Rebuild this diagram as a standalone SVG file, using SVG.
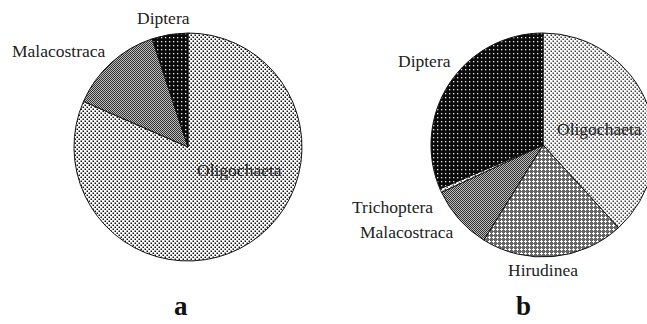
<svg xmlns="http://www.w3.org/2000/svg" width="647" height="324" viewBox="0 0 647 324">
<style>
.slice{stroke:#111;stroke-width:1}
.lbl{font-family:"Liberation Serif","Times New Roman",serif;font-size:17.5px;fill:#222}
.cap{font-family:"Liberation Serif","Times New Roman",serif;font-size:27px;font-weight:bold;fill:#111}
</style>
<defs>
<pattern id="pLight" width="4" height="4" patternUnits="userSpaceOnUse">
<rect width="4" height="4" fill="#fff"/>
<rect x="0.5" y="0.5" width="1.5" height="1.5" fill="#111"/>
<rect x="2.5" y="2.5" width="1.5" height="1.5" fill="#111"/>
</pattern>
<pattern id="pLightB" width="4" height="4" patternUnits="userSpaceOnUse">
<rect width="4" height="4" fill="#fff"/>
<rect x="0.5" y="0.5" width="1.5" height="1.5" fill="#444"/>
<rect x="2.5" y="2.5" width="1.5" height="1.5" fill="#444"/>
</pattern>
<pattern id="pGray" width="2" height="2" patternUnits="userSpaceOnUse">
<rect width="2" height="2" fill="#bbb"/>
<rect x="0" y="0" width="1" height="1" fill="#333"/>
<rect x="1" y="1" width="1" height="1" fill="#333"/>
</pattern>
<pattern id="pDark" width="4" height="4" patternUnits="userSpaceOnUse">
<rect width="4" height="4" fill="#0a0a0a"/>
<rect x="1" y="1" width="1.3" height="1.3" fill="#eee"/>
</pattern>
<pattern id="pCross" width="4" height="4" patternUnits="userSpaceOnUse">
<rect width="4" height="4" fill="#666"/>
<rect x="0" y="1" width="3" height="1" fill="#fff"/>
<rect x="1" y="0" width="1" height="3" fill="#fff"/>
</pattern>
</defs>
<rect width="647" height="324" fill="#fff"/>

<g id="pie-a">
<g id="a-oligochaeta"><path class="slice" fill="url(#pLight)" d="M188,147 L188,33 A114,114 0 1 1 83.5,101.4 Z"/></g>
<g id="a-malacostraca"><path class="slice" fill="url(#pGray)" d="M188,147 L83.5,101.4 A114,114 0 0 1 152.2,38.8 Z"/></g>
<g id="a-diptera"><path class="slice" fill="url(#pDark)" d="M188,147 L152.2,38.8 A114,114 0 0 1 188,33 Z"/></g>
<text class="lbl" x="137" y="24">Diptera</text>
<text class="lbl" x="12" y="57">Malacostraca</text>
<text class="lbl" x="197" y="176">Oligochaeta</text>
<text class="cap" x="174" y="315">a</text>
</g>

<g id="pie-b">
<g id="b-oligochaeta"><path class="slice" fill="url(#pLightB)" d="M543,145 L543,33 A112,112 0 0 1 618.5,227.7 Z"/></g>
<g id="b-hirudinea"><path class="slice" fill="url(#pCross)" d="M543,145 L618.5,227.7 A112,112 0 0 1 483.8,240.1 Z"/></g>
<g id="b-malacostraca"><path class="slice" fill="url(#pGray)" d="M543,145 L483.8,240.1 A112,112 0 0 1 441.5,192.3 Z"/></g>
<g id="b-trichoptera"><path class="slice" fill="url(#pLightB)" stroke-width="0.6" d="M543,145 L441.5,192.3 A112,112 0 0 1 439.9,188.8 Z"/></g>
<g id="b-diptera"><path class="slice" fill="url(#pDark)" d="M543,145 L439.9,188.8 A112,112 0 0 1 543,33 Z"/></g>
<text class="lbl" x="398" y="67">Diptera</text>
<text class="lbl" x="557" y="135">Oligochaeta</text>
<text class="lbl" x="352" y="213">Trichoptera</text>
<text class="lbl" x="360" y="238">Malacostraca</text>
<text class="lbl" x="508" y="276">Hirudinea</text>
<text class="cap" x="516" y="315">b</text>
</g>
</svg>
